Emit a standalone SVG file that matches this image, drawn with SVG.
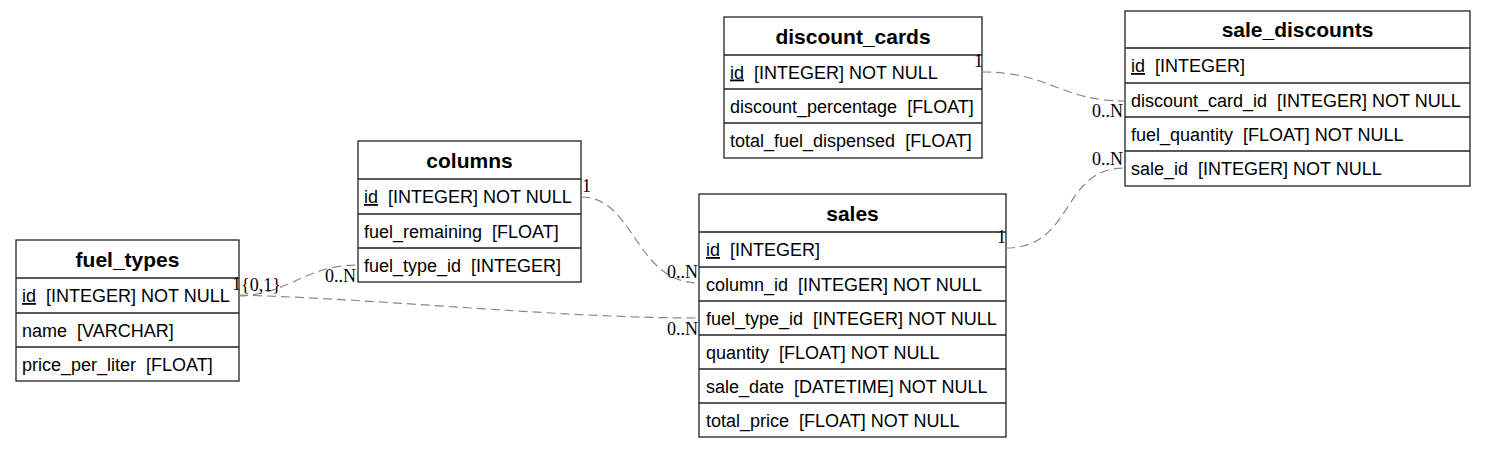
<svg xmlns="http://www.w3.org/2000/svg" width="1486" height="449" viewBox="0 0 1486 449">
<style>
.box{fill:#fff;stroke:#222;stroke-width:1.3}
.ln{stroke:#222;stroke-width:1.3}
.h{font-family:"Liberation Sans",Arial,sans-serif;font-size:21px;font-weight:bold;text-anchor:middle;fill:#000}
.r{font-family:"Liberation Sans",Arial,sans-serif;font-size:18px;fill:#000;white-space:pre}
.u{text-decoration:underline}
.e{fill:none;stroke:#888;stroke-width:1.2;stroke-dasharray:9,5}
.l{font-family:"Liberation Serif","Times New Roman",serif;font-size:18px;fill:#000}
.le{text-anchor:end}
</style>
<rect width="1486" height="449" fill="#fff"/>
<g id="fuel_types">
<rect class="box" x="16" y="240" width="223" height="141"/>
<line class="ln" x1="16" y1="278" x2="239" y2="278"/>
<line class="ln" x1="16" y1="313" x2="239" y2="313"/>
<line class="ln" x1="16" y1="347" x2="239" y2="347"/>
<text class="h" x="127.5" y="266.5">fuel_types</text>
<text class="r" x="22" y="302"><tspan class="u">id</tspan>  [INTEGER] NOT NULL</text>
<text class="r" x="22" y="336.5">name  [VARCHAR]</text>
<text class="r" x="22" y="370.5">price_per_liter  [FLOAT]</text>
</g>
<g id="columns">
<rect class="box" x="358" y="141" width="223" height="141"/>
<line class="ln" x1="358" y1="179" x2="581" y2="179"/>
<line class="ln" x1="358" y1="214" x2="581" y2="214"/>
<line class="ln" x1="358" y1="248" x2="581" y2="248"/>
<text class="h" x="469.5" y="167.5">columns</text>
<text class="r" x="364" y="203"><tspan class="u">id</tspan>  [INTEGER] NOT NULL</text>
<text class="r" x="364" y="237.5">fuel_remaining  [FLOAT]</text>
<text class="r" x="364" y="271.5">fuel_type_id  [INTEGER]</text>
</g>
<g id="sales">
<rect class="box" x="699" y="194" width="307" height="243"/>
<line class="ln" x1="699" y1="232" x2="1006" y2="232"/>
<line class="ln" x1="699" y1="267" x2="1006" y2="267"/>
<line class="ln" x1="699" y1="301" x2="1006" y2="301"/>
<line class="ln" x1="699" y1="335" x2="1006" y2="335"/>
<line class="ln" x1="699" y1="369" x2="1006" y2="369"/>
<line class="ln" x1="699" y1="403" x2="1006" y2="403"/>
<text class="h" x="852.5" y="220.5">sales</text>
<text class="r" x="706" y="256"><tspan class="u">id</tspan>  [INTEGER]</text>
<text class="r" x="706" y="290.5">column_id  [INTEGER] NOT NULL</text>
<text class="r" x="706" y="324.5">fuel_type_id  [INTEGER] NOT NULL</text>
<text class="r" x="706" y="358.5">quantity  [FLOAT] NOT NULL</text>
<text class="r" x="706" y="392.5">sale_date  [DATETIME] NOT NULL</text>
<text class="r" x="706" y="426.5">total_price  [FLOAT] NOT NULL</text>
</g>
<g id="discount_cards">
<rect class="box" x="724" y="17" width="258" height="141"/>
<line class="ln" x1="724" y1="55" x2="982" y2="55"/>
<line class="ln" x1="724" y1="89" x2="982" y2="89"/>
<line class="ln" x1="724" y1="123" x2="982" y2="123"/>
<text class="h" x="853" y="43.5">discount_cards</text>
<text class="r" x="730" y="78.5"><tspan class="u">id</tspan>  [INTEGER] NOT NULL</text>
<text class="r" x="730" y="112.5">discount_percentage  [FLOAT]</text>
<text class="r" x="730" y="147">total_fuel_dispensed  [FLOAT]</text>
</g>
<g id="sale_discounts">
<rect class="box" x="1125" y="11" width="345" height="175"/>
<line class="ln" x1="1125" y1="48" x2="1470" y2="48"/>
<line class="ln" x1="1125" y1="83" x2="1470" y2="83"/>
<line class="ln" x1="1125" y1="117" x2="1470" y2="117"/>
<line class="ln" x1="1125" y1="151" x2="1470" y2="151"/>
<text class="h" x="1297.5" y="37">sale_discounts</text>
<text class="r" x="1131" y="72"><tspan class="u">id</tspan>  [INTEGER]</text>
<text class="r" x="1131" y="106.5">discount_card_id  [INTEGER] NOT NULL</text>
<text class="r" x="1131" y="140.5">fuel_quantity  [FLOAT] NOT NULL</text>
<text class="r" x="1131" y="174.5">sale_id  [INTEGER] NOT NULL</text>
</g>
<g id="connectors">
<path class="e" d="M239,296 C290,294 305,265 358,265"/>
<path class="e" d="M239,295 C400,300 560,318 699,318"/>
<path class="e" d="M581,197 C635,197 635,283 699,283"/>
<path class="e" d="M982,72 C1050,72 1060,101 1125,101"/>
<path class="e" d="M1006,248 C1075,248 1060,168 1125,168"/>
<text class="l" x="232" y="290">1</text>
<text class="l" x="241" y="291">{0,1}</text>
<text class="l le" x="356" y="282">0..N</text>
<text class="l" x="582" y="192">1</text>
<text class="l le" x="698" y="278">0..N</text>
<text class="l le" x="698" y="335">0..N</text>
<text class="l" x="974" y="67">1</text>
<text class="l le" x="1123" y="117">0..N</text>
<text class="l le" x="1123" y="165">0..N</text>
<text class="l" x="997" y="243">1</text>
</g>
</svg>
